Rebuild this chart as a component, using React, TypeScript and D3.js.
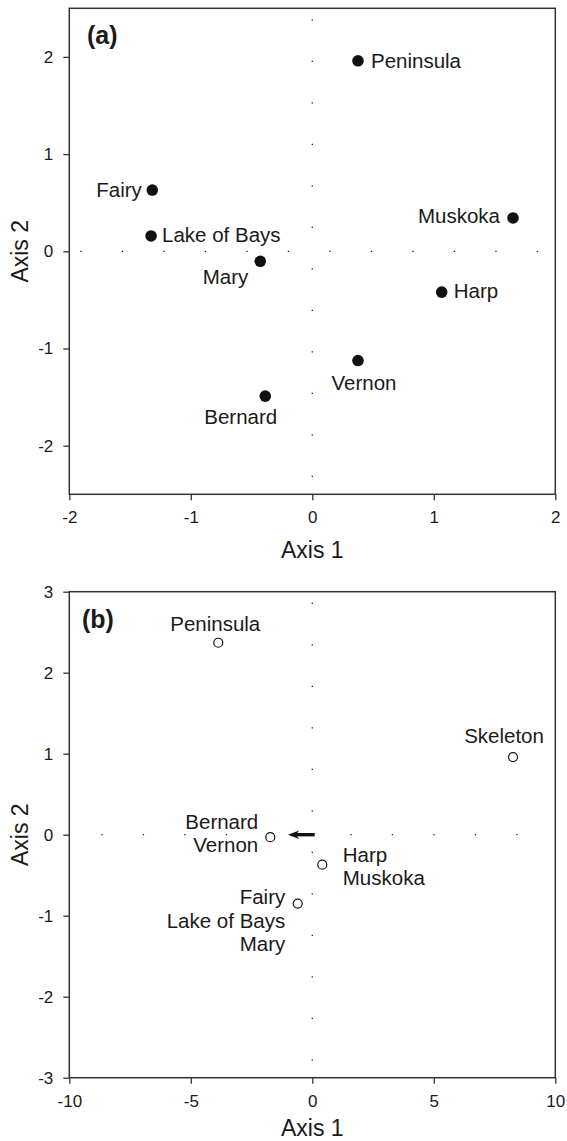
import { useRef, useEffect } from 'react';
import * as d3 from 'd3';

const W = 567;
const H = 1141;

// panel (a): ordination scores for each lake
const lakesA = ['Peninsula', 'Fairy', 'Lake of Bays', 'Mary', 'Muskoka', 'Harp', 'Vernon', 'Bernard'];
const axis1A = [0.376, -1.317, -1.327, -0.428, 1.652, 1.065, 0.376, -0.387];
const axis2A = [1.96, 0.63, 0.158, -0.103, 0.343, -0.42, -1.124, -1.49];
const xTicksA = [-2, -1, 0, 1, 2];
const yTicksA = [-2, -1, 0, 1, 2];

// panel (b): overlapping lakes share one point
const groupsB = [['Peninsula'], ['Skeleton'], ['Bernard', 'Vernon'], ['Harp', 'Muskoka'], ['Fairy', 'Lake of Bays', 'Mary']];
const axis1B = [-3.87, 8.26, -1.73, 0.41, -0.6];
const axis2B = [2.37, 0.958, -0.03, -0.37, -0.85];
const xTicksB = [-10, -5, 0, 5, 10];
const yTicksB = [-3, -2, -1, 0, 1, 2, 3];
const arrowFromB = [0.1, 0];
const arrowToB = [-1.0, 0];

// label layout: [dx, dy of first baseline, anchor]
const placeA = {
  Peninsula: [13, 7, 'start'],
  Fairy: [-10.5, 7, 'end'],
  'Lake of Bays': [11, 6.5, 'start'],
  Mary: [-12, 22.5, 'end'],
  Muskoka: [-13, 5.5, 'end'],
  Harp: [12, 5.5, 'start'],
  Vernon: [6, 29, 'middle'],
  Bernard: [-24.5, 27.5, 'middle'],
};
const placeB = [
  [-3, -12, 'middle'],
  [-9, -14, 'middle'],
  [-12, -8.5, 'end'],
  [20.5, -3, 'start'],
  [-12.5, 0.5, 'end'],
];

const FONT = '"Liberation Sans", Arial, Helvetica, sans-serif';
const left = 69.3;
const pw = 486;
const ph = 486;

function drawPanel(svg, { top, xDomain, yDomain, xTicks, yTicks, tag, tagX, dotOffset }) {
  const x = d3.scaleLinear().domain(xDomain).range([left, left + pw]);
  const y = d3.scaleLinear().domain(yDomain).range([top + ph, top]);
  const g = svg.append('g').style('font-family', FONT);

  // dotted zero lines
  g.append('line')
    .attr('x1', left).attr('x2', left + pw)
    .attr('y1', y(0)).attr('y2', y(0))
    .attr('stroke', '#222').attr('stroke-width', 1.3)
    .attr('stroke-dasharray', '1.3 40.2').attr('stroke-dashoffset', -dotOffset);
  g.append('line')
    .attr('x1', x(0)).attr('x2', x(0))
    .attr('y1', top).attr('y2', top + ph)
    .attr('stroke', '#222').attr('stroke-width', 1.3)
    .attr('stroke-dasharray', '1.3 40.2').attr('stroke-dashoffset', -11);

  const yAxis = g.append('g')
    .attr('transform', `translate(${left},0)`)
    .call(d3.axisLeft(y).tickValues(yTicks).tickSize(6).tickPadding(10).tickFormat(d3.format('d')));
  const xAxis = g.append('g')
    .attr('transform', `translate(0,${top + ph})`)
    .call(d3.axisBottom(x).tickValues(xTicks).tickSize(6).tickPadding(11).tickFormat(d3.format('d')));
  [xAxis, yAxis].forEach(a => {
    a.select('.domain').remove();
    a.selectAll('line').attr('stroke', '#333').attr('stroke-width', 1.3);
    a.selectAll('text')
      .attr('fill', '#1a1a1a')
      .style('font-size', '17px')
      .style('font-family', FONT)
      .text(d => (d < 0 ? '-' + Math.abs(d) : String(d)));
  });

  g.append('rect')
    .attr('x', left).attr('y', top)
    .attr('width', pw).attr('height', ph)
    .attr('fill', 'none').attr('stroke', '#333').attr('stroke-width', 1.5);

  g.append('text')
    .attr('x', left + pw / 2).attr('y', Math.min(top + ph + 64, H - 5))
    .attr('text-anchor', 'middle')
    .style('font-size', '23px').attr('fill', '#1a1a1a')
    .text('Axis 1');
  g.append('text')
    .attr('transform', `translate(28.3,${top + ph / 2}) rotate(-90)`)
    .attr('text-anchor', 'middle')
    .style('font-size', '23px').attr('fill', '#1a1a1a')
    .text('Axis 2');
  g.append('text')
    .attr('x', tagX).attr('y', top + 36)
    .style('font-size', '25px').style('font-weight', 'bold').attr('fill', '#1a1a1a')
    .text(tag);

  return { g, x, y };
}

export default function App() {
  const svgRef = useRef(null);

  useEffect(() => {
    document.body.style.margin = '0';
    const svg = d3.select(svgRef.current);
    svg.selectAll('*').remove();

    // (a)
    const a = drawPanel(svg, {
      top: 8.3, xDomain: [-2, 2], yDomain: [-2.5, 2.5],
      xTicks: xTicksA, yTicks: yTicksA, tag: '(a)', tagX: 87, dotOffset: 11,
    });
    const ptsA = lakesA.map((name, i) => ({ name, px: axis1A[i], py: axis2A[i] }));
    a.g.selectAll('circle.pt')
      .data(ptsA)
      .join('circle')
      .attr('class', 'pt')
      .attr('cx', d => a.x(d.px))
      .attr('cy', d => a.y(d.py))
      .attr('r', 5.8)
      .attr('fill', '#111');
    a.g.selectAll('text.lbl')
      .data(ptsA)
      .join('text')
      .attr('class', 'lbl')
      .attr('x', d => a.x(d.px) + placeA[d.name][0])
      .attr('y', d => a.y(d.py) + placeA[d.name][1])
      .attr('text-anchor', d => placeA[d.name][2])
      .style('font-size', '20.5px')
      .attr('fill', '#1a1a1a')
      .text(d => d.name);

    // (b)
    const b = drawPanel(svg, {
      top: 591.7, xDomain: [-10, 10], yDomain: [-3, 3],
      xTicks: xTicksB, yTicks: yTicksB, tag: '(b)', tagX: 82, dotOffset: 32,
    });
    const ptsB = groupsB.map((names, i) => ({ names, px: axis1B[i], py: axis2B[i], place: placeB[i] }));
    b.g.selectAll('circle.pt')
      .data(ptsB)
      .join('circle')
      .attr('class', 'pt')
      .attr('cx', d => b.x(d.px))
      .attr('cy', d => b.y(d.py))
      .attr('r', 4.5)
      .attr('fill', '#fff')
      .attr('stroke', '#111')
      .attr('stroke-width', 1.2);
    const lbl = b.g.selectAll('text.lbl')
      .data(ptsB)
      .join('text')
      .attr('class', 'lbl')
      .attr('text-anchor', d => d.place[2])
      .style('font-size', '20.5px')
      .attr('fill', '#1a1a1a');
    lbl.selectAll('tspan')
      .data(d => d.names.map((n, i) => ({ n, i, d })))
      .join('tspan')
      .attr('x', t => b.x(t.d.px) + t.d.place[0])
      .attr('y', t => b.y(t.d.py) + t.d.place[1] + t.i * 23.5)
      .text(t => t.n);

    // arrow
    const ax0 = b.x(arrowFromB[0]);
    const ax1 = b.x(arrowToB[0]);
    const ay = b.y(arrowFromB[1]);
    b.g.append('line')
      .attr('x1', ax0).attr('x2', ax1 + 8)
      .attr('y1', ay).attr('y2', ay)
      .attr('stroke', '#111').attr('stroke-width', 3.4);
    b.g.append('path')
      .attr('d', d3.line()([[ax1, ay], [ax1 + 11, ay - 4.2], [ax1 + 8, ay], [ax1 + 11, ay + 4.2]]) + 'Z')
      .attr('fill', '#111');
  }, []);

  return (
    <div>
      <svg ref={svgRef} width={W} height={H} style={{ display: 'block', background: '#fff' }} />
    </div>
  );
}
